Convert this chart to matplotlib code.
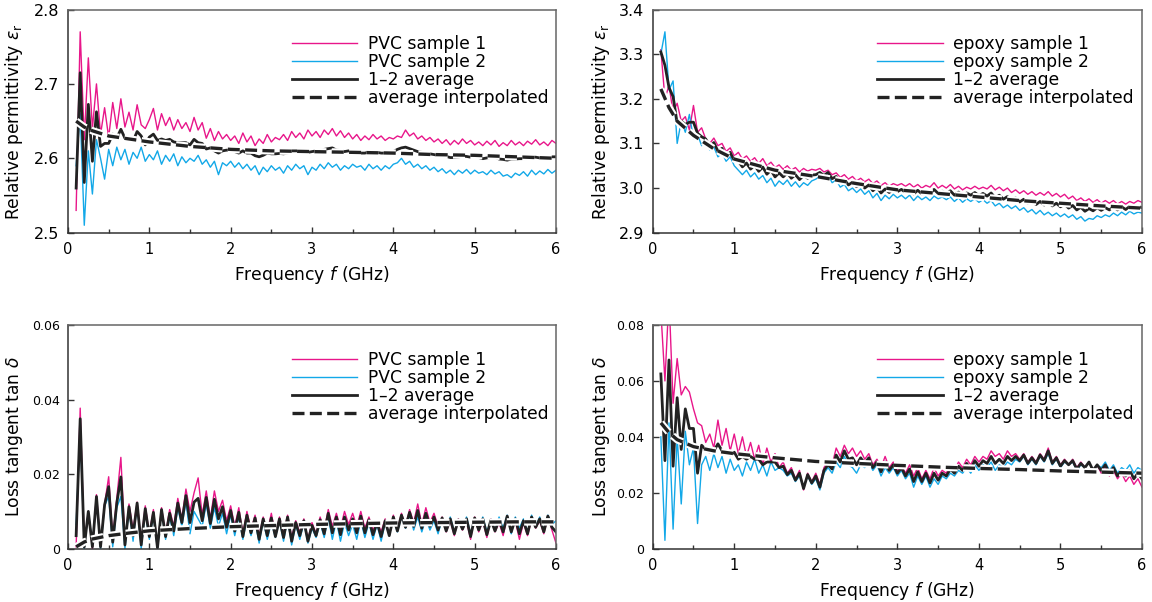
import numpy as np
import matplotlib
matplotlib.use('Agg')
import matplotlib.pyplot as plt
import matplotlib.patheffects as pe
from matplotlib.ticker import MultipleLocator

#------------------------------------------------------------------------------#
# Fonts                                                                        #
#------------------------------------------------------------------------------#
plt.rcParams['font.family'] = ['DejaVu Sans']
plt.rcParams['mathtext.fontset'] = 'dejavusans'

#------------------------------------------------------------------------------#
# Data                                                    #
#------------------------------------------------------------------------------#

# measurement grid, 0.10 ... 6.00 GHz in 0.05 GHz steps (119 points)
freq = np.arange(119) * 0.05 + 0.10
# frequencies where the interpolated curve was read
fit_freq = [0.1, 0.2, 0.3, 0.5, 0.75, 1, 1.5, 2, 2.5, 3, 3.5, 4, 4.5, 5, 5.5, 6]

# PVC relative permittivity
pvc_eps_1 = [2.530, 2.770, 2.625, 2.735, 2.640, 2.700, 2.632, 2.668, 2.628, 2.675,
             2.640, 2.680, 2.642, 2.662, 2.638, 2.672, 2.645, 2.640, 2.652, 2.667,
             2.638, 2.660, 2.644, 2.655, 2.638, 2.652, 2.640, 2.648, 2.636, 2.655,
             2.638, 2.648, 2.627, 2.640, 2.624, 2.636, 2.626, 2.632, 2.624, 2.630,
             2.620, 2.634, 2.622, 2.630, 2.617, 2.626, 2.620, 2.632, 2.622, 2.628,
             2.625, 2.632, 2.624, 2.636, 2.628, 2.634, 2.626, 2.638, 2.630, 2.636,
             2.628, 2.638, 2.632, 2.640, 2.630, 2.637, 2.628, 2.634, 2.626, 2.632,
             2.624, 2.630, 2.625, 2.632, 2.626, 2.630, 2.624, 2.628, 2.626, 2.630,
             2.628, 2.638, 2.630, 2.634, 2.626, 2.630, 2.624, 2.628, 2.622, 2.626,
             2.620, 2.625, 2.618, 2.624, 2.619, 2.626, 2.620, 2.624, 2.618, 2.622,
             2.617, 2.623, 2.618, 2.624, 2.616, 2.621, 2.617, 2.624, 2.618, 2.622,
             2.617, 2.623, 2.619, 2.625, 2.618, 2.622, 2.617, 2.624, 2.620]
pvc_eps_2 = [2.590, 2.660, 2.510, 2.610, 2.552, 2.625, 2.600, 2.572, 2.612, 2.590,
             2.615, 2.598, 2.612, 2.592, 2.608, 2.600, 2.615, 2.596, 2.605, 2.598,
             2.610, 2.592, 2.604, 2.596, 2.606, 2.590, 2.602, 2.594, 2.600, 2.596,
             2.604, 2.592, 2.598, 2.588, 2.596, 2.578, 2.594, 2.590, 2.596, 2.588,
             2.594, 2.586, 2.592, 2.584, 2.590, 2.578, 2.588, 2.582, 2.590, 2.584,
             2.588, 2.580, 2.590, 2.584, 2.592, 2.586, 2.590, 2.578, 2.588, 2.584,
             2.592, 2.586, 2.594, 2.588, 2.592, 2.584, 2.590, 2.586, 2.592, 2.588,
             2.590, 2.584, 2.592, 2.586, 2.590, 2.584, 2.590, 2.586, 2.592, 2.594,
             2.600, 2.592, 2.596, 2.588, 2.592, 2.586, 2.590, 2.584, 2.588, 2.582,
             2.586, 2.580, 2.584, 2.578, 2.584, 2.580, 2.585, 2.579, 2.584, 2.580,
             2.582, 2.578, 2.584, 2.579, 2.582, 2.576, 2.578, 2.574, 2.580, 2.577,
             2.582, 2.576, 2.584, 2.578, 2.583, 2.579, 2.585, 2.580, 2.584]
pvc_eps_fit = [2.650, 2.642, 2.637, 2.630, 2.626, 2.622, 2.616, 2.612, 2.610,
               2.609, 2.608, 2.607, 2.605, 2.604, 2.602, 2.600]

# epoxy relative permittivity
epoxy_eps_1 = [3.310, 3.200, 3.230, 3.170, 3.190, 3.150, 3.160, 3.130, 3.185, 3.125,
               3.135, 3.110, 3.100, 3.112, 3.095, 3.100, 3.082, 3.090, 3.072, 3.080,
               3.065, 3.072, 3.060, 3.068, 3.055, 3.066, 3.050, 3.058, 3.046, 3.052,
               3.042, 3.050, 3.040, 3.046, 3.036, 3.044, 3.038, 3.042, 3.040, 3.044,
               3.036, 3.040, 3.030, 3.034, 3.024, 3.030, 3.020, 3.026, 3.016, 3.022,
               3.014, 3.020, 3.010, 3.016, 3.006, 3.012, 3.004, 3.010, 3.006, 3.010,
               3.004, 3.010, 3.002, 3.008, 3.000, 3.006, 3.002, 3.012, 3.000, 3.006,
               3.000, 3.008, 2.998, 3.004, 2.996, 3.002, 2.998, 3.004, 2.998, 3.002,
               2.998, 3.006, 2.996, 3.002, 2.994, 3.000, 2.990, 2.996, 2.988, 2.994,
               2.986, 2.992, 2.984, 2.990, 2.984, 2.992, 2.982, 2.988, 2.980, 2.986,
               2.976, 2.982, 2.972, 2.978, 2.970, 2.976, 2.968, 2.974, 2.966, 2.972,
               2.966, 2.972, 2.964, 2.970, 2.964, 2.970, 2.966, 2.972, 2.968]
epoxy_eps_2 = [3.300, 3.350, 3.220, 3.240, 3.100, 3.150, 3.125, 3.165, 3.110, 3.120,
               3.095, 3.110, 3.085, 3.092, 3.070, 3.078, 3.060, 3.070, 3.050, 3.040,
               3.030, 3.040, 3.025, 3.034, 3.020, 3.028, 3.012, 3.022, 3.004, 3.016,
               3.008, 3.018, 3.004, 3.014, 3.002, 3.012, 3.006, 3.016, 3.020, 3.026,
               3.020, 3.030, 3.012, 3.018, 3.002, 3.008, 2.994, 3.000, 2.990, 2.998,
               2.986, 2.994, 2.978, 2.988, 2.972, 2.984, 2.976, 2.986, 2.978, 2.984,
               2.976, 2.984, 2.972, 2.982, 2.974, 2.980, 2.972, 2.982, 2.976, 2.980,
               2.974, 2.980, 2.970, 2.978, 2.968, 2.976, 2.970, 2.976, 2.968, 2.974,
               2.966, 2.972, 2.960, 2.966, 2.956, 2.962, 2.954, 2.960, 2.950, 2.956,
               2.946, 2.952, 2.942, 2.950, 2.940, 2.946, 2.938, 2.944, 2.936, 2.942,
               2.934, 2.940, 2.930, 2.936, 2.926, 2.932, 2.930, 2.938, 2.934, 2.940,
               2.936, 2.944, 2.938, 2.946, 2.940, 2.948, 2.942, 2.946, 2.944]
epoxy_eps_fit = [3.222, 3.180, 3.150, 3.118, 3.088, 3.065, 3.040, 3.026, 3.010,
                 2.996, 2.988, 2.980, 2.972, 2.966, 2.960, 2.955]

# PVC loss tangent, in units of 1e-3
pvc_tan_1 = [0.5, 37.7, 1.0, 10.0, 0.0, 14.5, 1.0, 12.0, 19.3, 3.0,
             13.5, 24.5, 2.0, 12.0, 5.0, 12.5, 2.0, 11.5, 4.0, 10.5,
             0.5, 11.0, 4.0, 10.5, 6.0, 13.5, 8.0, 16.0, 10.0, 15.0,
             19.0, 9.0, 15.5, 8.0, 15.5, 10.0, 13.0, 7.5, 11.5, 6.0,
             11.0, 4.0, 10.0, 5.0, 9.0, 3.5, 8.5, 4.5, 9.5, 3.5,
             8.5, 4.0, 9.0, 3.0, 7.5, 4.5, 8.0, 2.5, 7.0, 4.0,
             8.5, 5.0, 10.5, 6.0, 9.5, 5.5, 10.0, 6.5, 9.5, 6.0,
             10.0, 5.5, 8.5, 5.0, 7.5, 4.5, 8.0, 3.5, 9.0, 5.0,
             9.5, 6.0, 10.5, 7.0, 12.0, 6.5, 11.0, 7.0, 9.5, 6.0,
             8.5, 4.5, 7.5, 3.5, 8.0, 5.0, 7.5, 2.5, 8.5, 4.5,
             7.5, 3.0, 8.0, 4.5, 7.0, 3.5, 8.5, 5.0, 7.5, 2.5,
             7.0, 3.5, 8.0, 5.5, 7.5, 4.0, 8.5, 5.0, 1.5]
pvc_tan_2 = [6.5, 32.0, 0.0, 10.0, 1.0, 13.5, 0.0, 11.5, 14.0, 0.5,
             11.0, 14.0, 0.0, 10.5, 2.0, 12.0, 0.0, 10.0, 2.5, 9.0,
             0.0, 10.0, 2.5, 8.5, 3.5, 11.0, 6.0, 12.5, 4.0, 10.0,
             8.0, 6.0, 12.0, 5.5, 11.0, 6.0, 9.5, 4.0, 9.0, 3.5,
             8.5, 2.5, 8.0, 3.5, 7.5, 1.5, 7.5, 2.5, 7.0, 3.0,
             7.5, 2.0, 8.0, 1.0, 6.5, 2.5, 7.0, 1.5, 5.5, 3.0,
             7.0, 3.0, 8.5, 2.5, 7.5, 2.0, 7.0, 3.5, 6.5, 2.5,
             7.5, 3.0, 7.0, 2.5, 6.5, 2.0, 7.0, 3.5, 8.0, 4.5,
             8.5, 5.5, 9.0, 5.0, 8.5, 4.5, 8.0, 5.0, 7.5, 4.0,
             8.0, 5.0, 8.5, 4.5, 7.5, 5.5, 8.5, 4.0, 8.0, 5.5,
             8.5, 4.5, 7.5, 5.0, 8.5, 5.5, 9.0, 4.0, 8.5, 5.5,
             8.0, 4.5, 9.0, 6.0, 8.5, 5.0, 9.0, 6.5, 7.5]
pvc_tan_fit = [0.5, 1.8, 2.6, 3.5, 4.2, 4.8, 5.4, 5.9, 6.2, 6.5, 6.7, 6.9,
               7.0, 7.1, 7.2, 7.2]

# epoxy loss tangent, in units of 1e-3
epoxy_tan_1 = [85, 60, 90, 52, 68, 55, 58, 56, 50, 45,
               44, 38, 41, 36, 46, 37, 43, 35, 41, 34,
               40, 33, 38, 32, 37, 30, 36, 31, 34, 29,
               31, 27, 29, 25, 28, 21, 27, 24, 27, 23,
               29, 31, 30, 36, 33, 37, 34, 36, 33, 35,
               32, 34, 30, 32, 29, 33, 29, 31, 28, 30,
               27, 30, 26, 29, 25, 28, 25, 29, 26, 28,
               27, 30, 28, 31, 29, 32, 30, 33, 31, 33,
               32, 35, 33, 34, 32, 35, 33, 34, 32, 34,
               31, 33, 31, 34, 32, 36, 31, 33, 30, 32,
               30, 32, 29, 31, 29, 31, 28, 30, 27, 29,
               26, 28, 25, 27, 24, 26, 23, 25, 22]
epoxy_tan_2 = [40, 3, 45, 7, 40, 16, 42, 30, 36, 9,
               30, 33, 28, 34, 29, 33, 27, 32, 28, 30,
               26, 31, 28, 32, 27, 30, 26, 31, 28, 29,
               28, 26, 27, 24, 26, 22, 26, 23, 25, 21,
               27, 29, 27, 31, 29, 33, 30, 29, 27, 30,
               29, 31, 28, 30, 26, 29, 27, 29, 26, 28,
               25, 27, 22, 26, 23, 26, 22, 25, 23, 26,
               25, 27, 26, 28, 27, 29, 27, 30, 28, 30,
               29, 31, 28, 30, 29, 31, 30, 32, 31, 33,
               30, 32, 30, 33, 31, 34, 30, 32, 29, 31,
               30, 31, 28, 30, 29, 31, 28, 30, 29, 31,
               28, 30, 27, 29, 28, 30, 27, 29, 28]
epoxy_tan_fit = [45, 41.5, 39, 36.5, 35, 34, 32.5, 31.2, 30.5, 29.8, 29.2,
                 28.7, 28.3, 27.8, 27.4, 27.0]

pvc_labels = ['PVC sample 1', 'PVC sample 2', '1\u20132 average', 'average interpolated']
epoxy_labels = ['epoxy sample 1', 'epoxy sample 2', '1\u20132 average', 'average interpolated']

#------------------------------------------------------------------------------#
# Drawing                                                                      #
#------------------------------------------------------------------------------#
PINK = '#e8168a'
BLUE = '#12a8e8'
INK = '#222222'
W, H = 1152, 602

fig = plt.figure(figsize=(W / 100, H / 100), dpi=100)


def make_axes(left, top, right, bottom):
    return fig.add_axes([left / W, 1 - bottom / H, (right - left) / W, (bottom - top) / H])


def draw_panel(ax, s1, s2, fit, labels, ylim, ystep, ylabel, yfmt, ysize, label_x, scale=1.0):
    s1 = np.array(s1) * scale
    s2 = np.array(s2) * scale
    avg = (s1 + s2) / 2
    ax.plot(freq, s1, color=PINK, lw=1.0, label=labels[0])
    ax.plot(freq, s2, color=BLUE, lw=1.0, label=labels[1])
    ax.plot(freq, avg, color=INK, lw=2.0, label=labels[2])
    ax.plot(fit_freq, np.array(fit) * scale, color=INK, lw=2.4,
            dashes=(3.6, 1.6), label=labels[3],
            path_effects=[pe.Stroke(linewidth=5.4, foreground='white'), pe.Normal()])

    ax.set_xlim(0, 6)
    ax.set_ylim(*ylim)
    ax.xaxis.set_major_locator(MultipleLocator(1))
    ax.xaxis.set_minor_locator(MultipleLocator(0.5))
    ax.yaxis.set_major_locator(MultipleLocator(ystep))
    ax.yaxis.set_major_formatter(yfmt)
    ax.tick_params(which='both', direction='in', color='#333333', width=1.0)
    ax.tick_params(which='major', length=4)
    ax.tick_params(which='minor', length=3)
    ax.tick_params(axis='x', labelsize=10.5, pad=7)
    ax.tick_params(axis='y', labelsize=ysize, pad=6)
    for name, sp in ax.spines.items():
        sp.set_color('#333333' if name in ('left', 'bottom') else '#666666')
        sp.set_linewidth(1.1)

    ax.set_xlabel('Frequency $f$ (GHz)', fontsize=12.3, labelpad=5)
    ax.set_ylabel(ylabel, fontsize=12.3)
    ax.yaxis.set_label_coords(label_x, 0.5)

    ax.legend(loc='upper left', bbox_to_anchor=(0.458, 0.885), frameon=False,
              fontsize=12.3, handlelength=3.85, handletextpad=0.6,
              labelspacing=0.0, borderpad=0, borderaxespad=0)


ax1 = make_axes(68, 9.5, 556, 232.7)
ax2 = make_axes(652.7, 9.5, 1142, 232.7)
ax3 = make_axes(68, 325, 556, 548.7)
ax4 = make_axes(652.7, 325, 1142, 548.7)

eps_label = r'Relative permittivity $\varepsilon_{\mathrm{r}}$'
tan_label = r'Loss tangent tan $\delta$'

draw_panel(ax1, pvc_eps_1, pvc_eps_2, pvc_eps_fit, pvc_labels, (2.5, 2.8), 0.1,
           eps_label, '{x:.1f}', 11.5, -0.088)
draw_panel(ax2, epoxy_eps_1, epoxy_eps_2, epoxy_eps_fit, epoxy_labels, (2.9, 3.4), 0.1,
           eps_label, '{x:.1f}', 11.5, -0.083)
draw_panel(ax3, pvc_tan_1, pvc_tan_2, pvc_tan_fit, pvc_labels, (0, 0.06), 0.02,
           tan_label, lambda v, p: '0' if v == 0 else f'{v:.2f}', 9, -0.088, scale=1e-3)
draw_panel(ax4, epoxy_tan_1, epoxy_tan_2, epoxy_tan_fit, epoxy_labels, (0, 0.08), 0.02,
           tan_label, lambda v, p: '0' if v == 0 else f'{v:.2f}', 9, -0.083, scale=1e-3)

fig.savefig('out.png', dpi=100)
